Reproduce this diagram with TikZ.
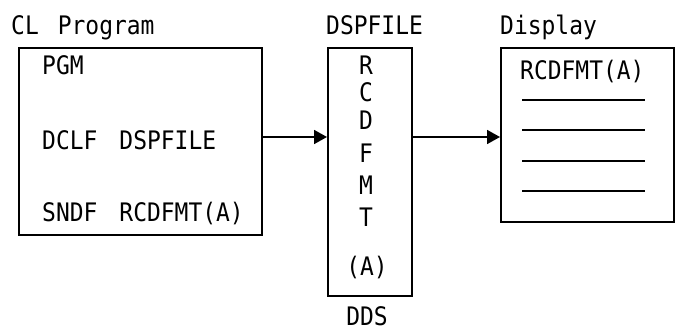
\documentclass[tikz,border=0pt]{standalone}
\usepackage{fontspec}
\setmainfont[FakeStretch=0.9]{DejaVu Sans Mono}
\usetikzlibrary{arrows.meta}
\begin{document}
\begin{tikzpicture}[x=1pt,y=-1pt,
  box/.style={draw, line width=1.8pt, inner sep=0pt, anchor=north west},
  txt/.style={anchor=base west, inner sep=0pt, font=\fontsize{25.5}{25.5}\selectfont},
  ctxt/.style={anchor=base, inner sep=0pt, font=\fontsize{25.5}{25.5}\selectfont},
  conn/.style={line width=1.8pt, -{Triangle[length=13pt,width=14pt]}},
  rulel/.style={line width=1.8pt}]
\useasboundingbox (0,0) rectangle (675,331);
% boxes
\node[box, minimum width=243pt, minimum height=187pt] (pgm) at (18,47) {};
\node[box, minimum width=84pt, minimum height=248pt] (dsp) at (327,47) {};
\node[box, minimum width=173pt, minimum height=174pt] (disp) at (500,47) {};
% titles
\node[txt] (t1) at (11,35) {CL\hspace{19pt}Program};
\node[txt] (t2) at (326,35) {DSPFILE};
\node[txt] (t3) at (500,35) {Display};
\node[ctxt] (t4) at (367,325.5) {DDS};
% program text
\node[txt] (p1) at (42,75) {PGM};
\node[txt] (p2) at (42,150) {DCLF\hspace{22pt}DSPFILE};
\node[txt] (p3) at (42,222) {SNDF\hspace{22pt}RCDFMT(A)};
% dds letters
\node[ctxt] (l1) at (366,75) {R};
\node[ctxt] (l2) at (366,102) {C};
\node[ctxt] (l3) at (366,130) {D};
\node[ctxt] (l4) at (366,163) {F};
\node[ctxt] (l5) at (366,195) {M};
\node[ctxt] (l6) at (366,227) {T};
\node[ctxt] (l7) at (367,276) {(A)};
% display content
\node[txt] (d1) at (520,80) {RCDFMT(A)};
\draw[rulel] (522,100) -- (645,100);
\draw[rulel] (522,130) -- (645,130);
\draw[rulel] (522,161) -- (645,161);
\draw[rulel] (522,191) -- (645,191);
% connectors
\coordinate (ay) at (0,137);
\draw[conn] (pgm.east |- ay) -- (dsp.west |- ay);
\draw[conn] (dsp.east |- ay) -- (disp.west |- ay);
\end{tikzpicture}
\end{document}
